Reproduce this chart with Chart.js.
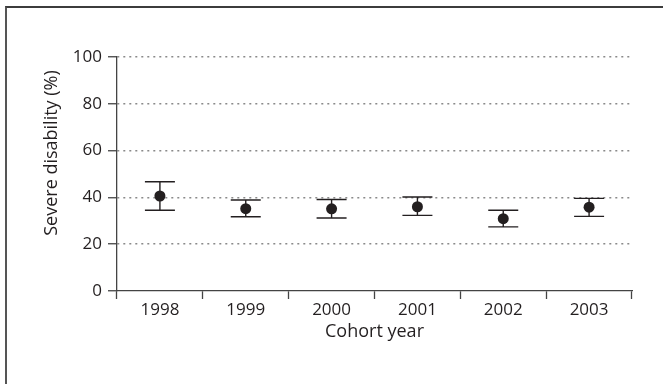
<!DOCTYPE html>
<html>
<head>
<meta charset="utf-8">
<script src="https://cdn.jsdelivr.net/npm/chart.js@4/dist/chart.umd.min.js"></script>
<style>
  html, body { margin: 0; padding: 0; background: #fff; }
  #wrap { position: relative; width: 663px; height: 384px; overflow: hidden; }
  #frame { position: absolute; left: 5px; top: 6px; width: 700px; height: 400px;
           border-top: 2px solid #3c3c3c; border-left: 2px solid #555; pointer-events: none; }
  canvas { position: absolute; left: 0; top: 0; }
</style>
</head>
<body>
<div id="wrap">
  <canvas id="c" width="663" height="384"></canvas>
  <div id="frame"></div>
</div>
<script>
const years = ['1998', '1999', '2000', '2001', '2002', '2003'];
const meanValues = [40.6, 35.2, 35.1, 36.0, 30.9, 35.8];
const upperValues = [46.7, 38.9, 39.1, 40.2, 34.5, 39.6];
const lowerValues = [34.5, 31.7, 31.2, 32.3, 27.4, 31.9];
const yTicks = [0, 20, 40, 60, 80, 100];
const yTitle = 'Severe disability (%)';
const xTitle = 'Cohort year';

const INK = '#231f20';
const FONT = "'Open Sans', sans-serif";

const errorBars = {
  id: 'errorBars',
  beforeDatasetsDraw(chart) {
    const { ctx, scales: { x, y } } = chart;
    ctx.save();
    ctx.strokeStyle = INK;
    ctx.lineWidth = 1.4;
    const half = 15;
    years.forEach((yr, i) => {
      const px = x.getPixelForValue(i);
      const top = y.getPixelForValue(upperValues[i]);
      const bot = y.getPixelForValue(lowerValues[i]);
      ctx.beginPath();
      ctx.moveTo(px, top); ctx.lineTo(px, bot);
      ctx.moveTo(px - half, top); ctx.lineTo(px + half, top);
      ctx.moveTo(px - half, bot); ctx.lineTo(px + half, bot);
      ctx.stroke();
    });
    ctx.restore();
  }
};

const yTitlePlugin = {
  id: 'yTitle',
  afterDraw(chart) {
    const { ctx, scales: { y } } = chart;
    ctx.save();
    ctx.translate(52, y.getPixelForValue(50) - 21);
    ctx.rotate(-Math.PI / 2);
    ctx.font = "18px " + FONT;
    ctx.fillStyle = INK;
    ctx.textAlign = 'center';
    ctx.textBaseline = 'middle';
    ctx.fillText(yTitle, 0, 0);
    ctx.restore();
  }
};

new Chart(document.getElementById('c'), {
  type: 'line',
  data: {
    labels: years,
    datasets: [{
      data: meanValues,
      showLine: false,
      pointRadius: 5.5,
      pointHoverRadius: 5.5,
      pointBackgroundColor: INK,
      pointBorderColor: INK,
      pointBorderWidth: 0
    }]
  },
  options: {
    responsive: false,
    animation: false,
    events: [],
    layout: { padding: { left: 40, top: 57, right: 31, bottom: 40 } },
    plugins: { legend: { display: false }, tooltip: { enabled: false } },
    scales: {
      x: {
        type: 'category',
        offset: true,
        grid: { offset: true, drawOnChartArea: false, tickLength: 8, tickColor: '#444', tickWidth: 1.3 },
        border: { color: '#444', width: 1.3 },
        ticks: { color: INK, font: { family: FONT, size: 17 }, padding: 1, maxRotation: 0 },
        title: { display: true, text: xTitle, color: INK, font: { family: FONT, size: 18 }, padding: { top: 0, bottom: 1 } },
        afterFit(s) { s.height = 384 - 40 - 291; }
      },
      y: {
        min: 0, max: 100,
        afterBuildTicks(s) { s.ticks = yTicks.map(v => ({ value: v })); },
        grid: {
          drawOnChartArea: true,
          color: c => (c.tick && c.tick.value === 0) ? 'rgba(0,0,0,0)' : '#8a8a8a',
          lineWidth: 1.5,
          tickLength: 9, tickColor: '#444', tickWidth: 1.3
        },
        border: { color: '#444', width: 1.3, dash: [2, 4] },
        ticks: { color: INK, font: { family: FONT, size: 17 }, padding: 6 },
        title: { display: false },
        afterFit(s) { s.width = 117 - 40; }
      }
    }
  },
  plugins: [errorBars, yTitlePlugin]
});
</script>
</body>
</html>
